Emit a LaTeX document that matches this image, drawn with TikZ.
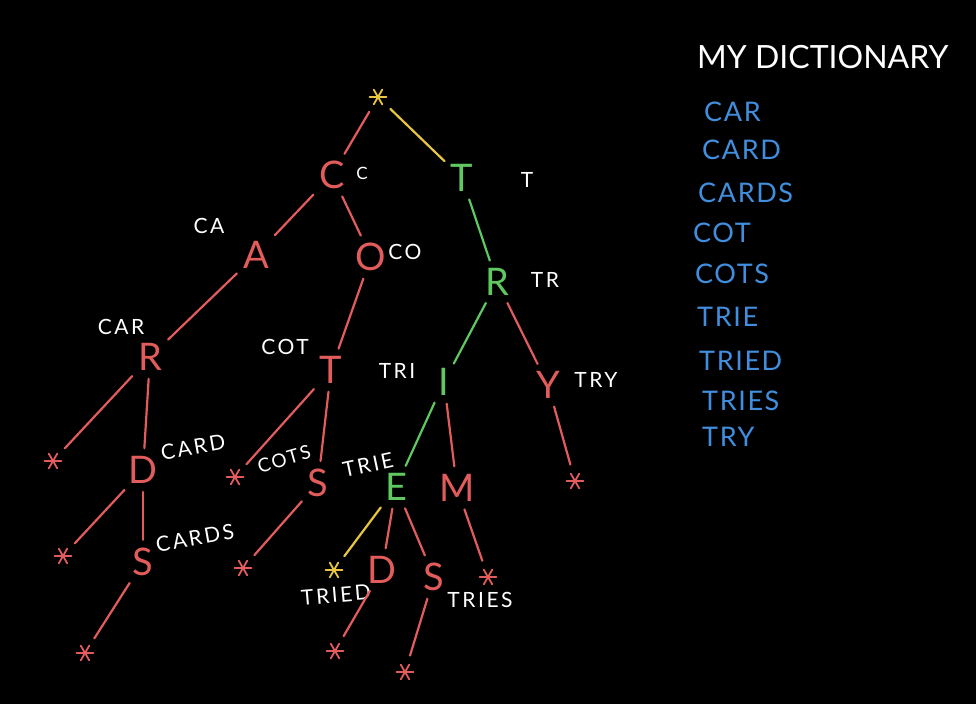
\documentclass[tikz,border=0pt]{standalone}
\usepackage{fontspec}
\setmainfont{Lato}
\definecolor{tred}{RGB}{226,92,92}
\definecolor{tgreen}{RGB}{96,200,96}
\definecolor{tyel}{RGB}{232,198,64}
\definecolor{tblue}{RGB}{66,142,222}
\tikzset{
 letter/.style={font=\fontsize{38}{40}\selectfont, inner sep=1pt},
 rl/.style={letter, text=tred},
 gl/.style={letter, text=tgreen},
 lab/.style={text=white, font=\fontsize{21}{23}\selectfont\addfontfeatures{LetterSpace=12}, inner sep=0pt},
 dict/.style={text=tblue, font=\fontsize{27}{30}\selectfont\addfontfeatures{LetterSpace=6}, anchor=west, inner sep=0pt},
 astr/.style={circle, minimum size=20pt, inner sep=0pt,
   path picture={\foreach \a in {0,60,120}{\draw[#1, line width=1.8pt, line cap=round, shift={(path picture bounding box.center)}] (\a:8.5) -- (\a+180:8.5);}}},
 edg/.style={draw=#1, line width=2.2pt, line cap=round, shorten <=7pt, shorten >=7pt},
}
\begin{document}
\begin{tikzpicture}[x=1pt,y=-1pt]
\fill[black] (0,0) rectangle (976,704);
\useasboundingbox (0,0) rectangle (976,704);
% nodes
\node[astr=tyel] (root) at (378,97) {};
\node[rl] (C1) at (332,175) {C};
\node[gl] (T1) at (462,178) {T};
\node[rl] (A) at (256,255) {A};
\node[rl] (O) at (371,257) {O};
\node[gl] (R2) at (497,282) {R};
\node[rl] (R1) at (150,357) {R};
\node[rl] (T2) at (331,370) {T};
\node[gl] (I) at (444,382) {I};
\node[rl] (Y) at (548,385) {Y};
\node[astr=tred] (s1) at (53,461) {};
\node[rl] (D1) at (143,470) {D};
\node[astr=tred] (s2) at (235,477) {};
\node[rl] (S1) at (318,483) {S};
\node[gl] (E) at (396,487) {E};
\node[rl] (M) at (457,488) {M};
\node[astr=tred] (s3) at (575,481) {};
\node[astr=tred] (s4) at (63,556) {};
\node[rl] (S2) at (143,562) {S};
\node[astr=tred] (s5) at (243,568) {};
\node[astr=tyel] (s6) at (334,570) {};
\node[rl] (D2) at (382,570) {D};
\node[rl] (S3) at (434,577) {S};
\node[astr=tred] (s7) at (488,577) {};
\node[astr=tred] (s8) at (85,653) {};
\node[astr=tred] (s9) at (335,651) {};
\node[astr=tred] (s10) at (405,672) {};
% labels
\node[lab, font=\fontsize{17}{19}\selectfont] (lC) at (362,173) {C};
\node[lab] (lT) at (527,180) {T};
\node[lab] (lCA) at (209,226) {CA};
\node[lab] (lCO) at (405,252) {CO};
\node[lab] (lTR) at (545,280) {TR};
\node[lab] (lCAR) at (121,327) {CAR};
\node[lab] (lCOT) at (285,347) {COT};
\node[lab] (lTRI) at (397,371) {TRI};
\node[lab] (lTRY) at (596,380) {TRY};
\node[lab, rotate=10] (lCARD) at (193,447) {CARD};
\node[lab, rotate=16, font=\fontsize{19}{21}\selectfont\addfontfeatures{LetterSpace=10}] (lCOTS) at (284,459) {COTS};
\node[lab, rotate=12] (lTRIE) at (368,465) {TRIE};
\node[lab, rotate=10] (lCARDS) at (195,538) {CARDS};
\node[lab, rotate=5] (lTRIED) at (336,595) {TRIED};
\node[lab] (lTRIES) at (480,600) {TRIES};
% edges
\draw[edg=tred] (root) -- (C1);
\draw[edg=tyel] (root) -- (T1);
\draw[edg=tred] (C1) -- (A);
\draw[edg=tred] (C1) -- (O);
\draw[edg=tgreen] (T1) -- (R2);
\draw[edg=tred] (A) -- (R1);
\draw[edg=tred] (O) -- (T2);
\draw[edg=tgreen] (R2) -- (I);
\draw[edg=tred] (R2) -- (Y);
\draw[edg=tred] (R1) -- (s1);
\draw[edg=tred] (R1) -- (D1);
\draw[edg=tred] (T2) -- (s2);
\draw[edg=tred] (T2) -- (S1);
\draw[edg=tgreen] (I) -- (E);
\draw[edg=tred] (I) -- (M);
\draw[edg=tred] (Y) -- (s3);
\draw[edg=tred] (D1) -- (s4);
\draw[edg=tred] (D1) -- (S2);
\draw[edg=tred] (S1) -- (s5);
\draw[edg=tyel] (E) -- (s6);
\draw[edg=tred] (E) -- (D2);
\draw[edg=tred] (E) -- (S3);
\draw[edg=tred] (M) -- (s7);
\draw[edg=tred] (S2) -- (s8);
\draw[edg=tred] (D2) -- (s9);
\draw[edg=tred] (S3) -- (s10);
% dictionary
\node[text=white, font=\fontsize{32}{34}\selectfont, anchor=west, inner sep=0pt] (title) at (697,57) {MY DICTIONARY};
\node[dict] (w1) at (704,112) {CAR};
\node[dict] (w2) at (702,150) {CARD};
\node[dict] (w3) at (698,193) {CARDS};
\node[dict] (w4) at (693,233) {COT};
\node[dict] (w5) at (695,274) {COTS};
\node[dict] (w6) at (697,317) {TRIE};
\node[dict] (w7) at (699,361) {TRIED};
\node[dict] (w8) at (702,401) {TRIES};
\node[dict] (w9) at (702,437) {TRY};
\end{tikzpicture}
\end{document}
